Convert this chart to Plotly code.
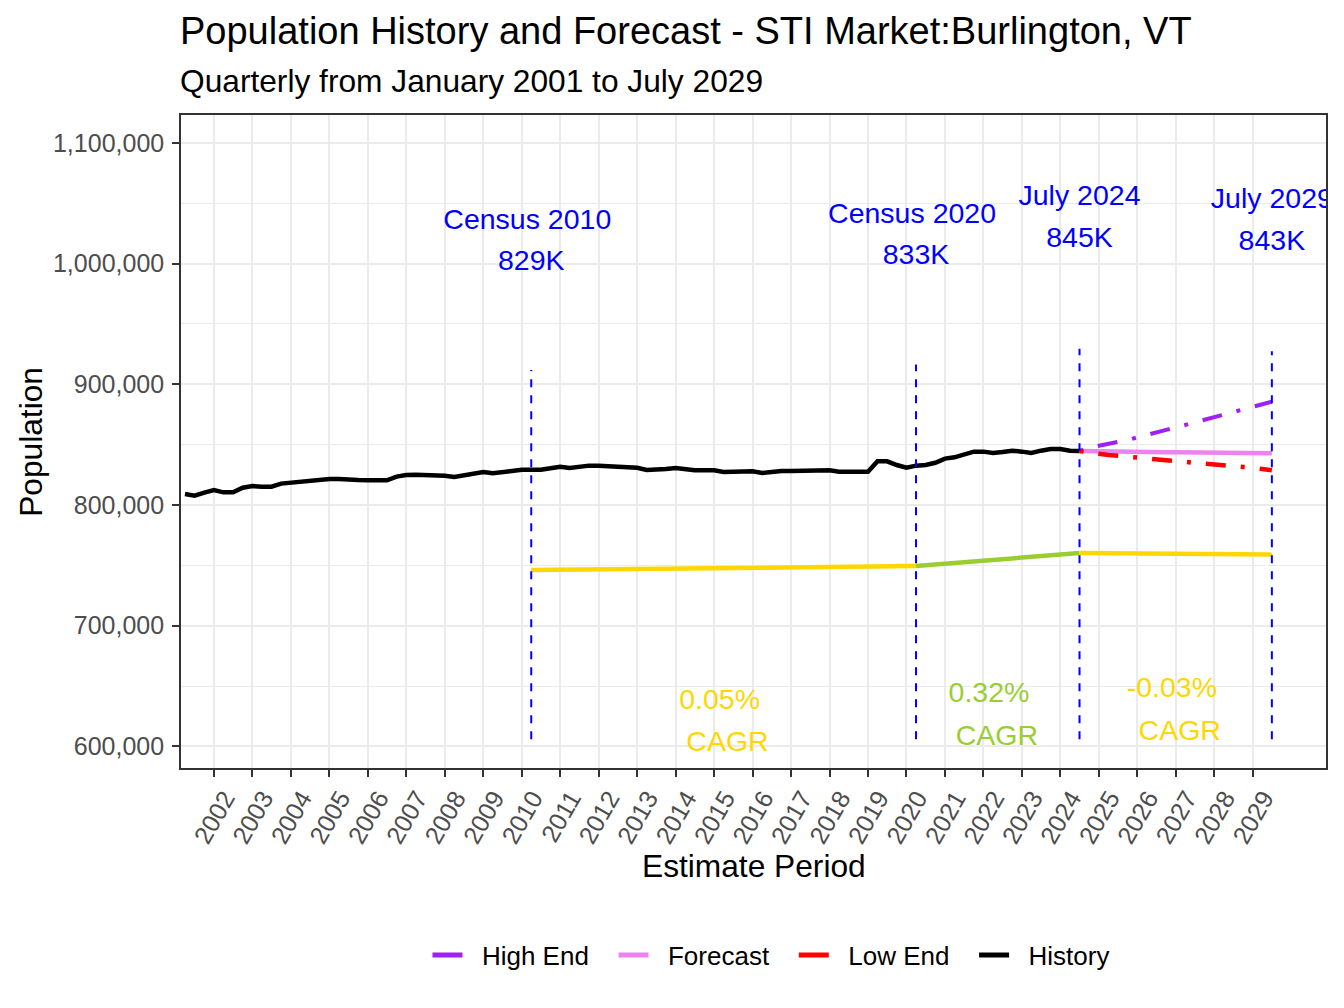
import plotly.graph_objects as go
import pandas as pd

# ---------------- data ----------------
hist_dates = pd.date_range("2001-04-01", "2024-07-01", freq="QS")
hist_values = [
    809100, 807700, 810200,
    812400, 810500, 810500, 814300,
    815700, 815200, 815200, 817700,
    818500, 818500, 819300, 820200,
    821500, 821500, 821500, 820700,
    820500, 820500, 820500, 823500,
    824800, 825100, 825100, 825100,
    824300, 823200, 824600, 826300,
    827300, 826300, 827300, 828700,
    829200, 829200, 829200, 830500,
    831700, 830700, 831700, 832600,
    832600, 832100, 831500, 831200,
    830900, 829000, 829000, 829800,
    830700, 829300, 828700, 828700,
    828700, 827400, 827600, 828200,
    827900, 826500, 827600, 828200,
    828200, 828400, 828400, 828700,
    828700, 827600, 827400, 827400,
    827600, 836200, 836200, 833100,
    830900, 832600, 833100, 835000,
    838400, 839500, 841700, 844200,
    844200, 843100, 843900, 845000,
    844200, 843100, 845000, 846400,
    846400, 845000, 844700,
]

fc_dates = pd.date_range("2024-07-01", "2029-07-01", freq="QS")
forecast_values = [844700, 844500, 844400, 844300, 844000, 843900, 843900, 843800,
                   843800, 843700, 843700, 843600, 843600, 843500, 843500, 843400,
                   843400, 843000, 842900, 842800, 842800]
high_values = [844700, 847500, 849100, 850500, 851900, 853800, 856000, 858300,
               860400, 862200, 864200, 866300, 868500, 870600, 872700, 874600,
               876500, 878400, 880600, 883100, 885600]
low_values = [844700, 843300, 842500, 841500, 840900, 840000, 839400, 838600,
              837800, 837000, 836400, 835700, 835100, 834400, 833900, 833300,
              832700, 831600, 830800, 829800, 828700]

milestone_dates = ["2010-04-01", "2020-04-01", "2024-07-01", "2029-07-01"]
milestone_names = ["Census 2010\u00a0", "Census 2020\u00a0", "July 2024", "July 2029"]
milestone_values = [829000, 833000, 845000, 843000]

cagr_dates = ["2010-04-01", "2020-04-01", "2024-07-01", "2029-07-01"]
cagr_values = [746100, 749400, 760200, 758900]
cagr_labels = ["0.05%", "0.32%", "-0.03%"]
cagr_colors = ["#FFD700", "#9ACD32", "#FFD700"]
cagr_label_dates = ["2015-04-01", "2022-04-01", "2027-01-01"]

year_ticks = list(range(2002, 2030))
y_ticks = [600000, 700000, 800000, 900000, 1000000, 1100000]
y_minor = [650000, 750000, 850000, 950000, 1050000]

legend_items = ["High End", "Forecast", "Low End", "History"]
legend_colors = ["#A020F0", "#EE82EE", "#FF0000", "black"]

# ---------------- style ----------------
FONT = "Liberation Sans, Arial, sans-serif"
BLUE = "#0000FF"
VLINE_BOTTOM = 606000
NB = "\u00a0"

fig = go.Figure()

fig.add_trace(go.Scatter(x=hist_dates, y=hist_values, mode="lines",
                         line=dict(color="black", width=4.5), showlegend=False,
                         hoverinfo="skip"))
fig.add_trace(go.Scatter(x=fc_dates, y=forecast_values, mode="lines",
                         line=dict(color="#EE82EE", width=4.5), showlegend=False,
                         hoverinfo="skip"))
fig.add_trace(go.Scatter(x=fc_dates, y=high_values, mode="lines",
                         line=dict(color="#A020F0", width=4, dash="4px,15px,20px,15px"),
                         showlegend=False, hoverinfo="skip"))
fig.add_trace(go.Scatter(x=fc_dates, y=low_values, mode="lines",
                         line=dict(color="#FF0000", width=4.5, dash="4px,15px,20px,15px"),
                         showlegend=False, hoverinfo="skip"))

# CAGR segments
for i, col in enumerate(cagr_colors):
    fig.add_trace(go.Scatter(x=cagr_dates[i:i + 2], y=cagr_values[i:i + 2], mode="lines",
                             line=dict(color=col, width=4.5), showlegend=False,
                             hoverinfo="skip"))

# milestone dashed verticals
vx, vy = [], []
for d, v in zip(milestone_dates, milestone_values):
    vx += [d, d, None]
    vy += [VLINE_BOTTOM, v * 1.1, None]
fig.add_trace(go.Scatter(x=vx, y=vy, mode="lines",
                         line=dict(color=BLUE, width=2, dash="8px,8px"),
                         showlegend=False, hoverinfo="skip"))

# milestone labels (clipped to plot area like the original)
fig.add_trace(go.Scatter(x=milestone_dates, y=[v * 1.248 for v in milestone_values],
                         mode="text", text=milestone_names, textposition="middle center",
                         textfont=dict(family=FONT, size=28.5, color=BLUE),
                         cliponaxis=True, showlegend=False, hoverinfo="skip"))
fig.add_trace(go.Scatter(x=milestone_dates, y=[v * 1.207 for v in milestone_values],
                         mode="text", text=[f"{round(v / 1000):.0f}K" for v in milestone_values],
                         textposition="middle center",
                         textfont=dict(family=FONT, size=28.5, color=BLUE),
                         cliponaxis=True, showlegend=False, hoverinfo="skip"))

# CAGR labels
seg_means = [(cagr_values[i] + cagr_values[i + 1]) / 2 for i in range(3)]
fig.add_trace(go.Scatter(x=cagr_label_dates, y=[m * 0.8517 for m in seg_means],
                         mode="text", text=[t + NB for t in cagr_labels],
                         textposition="middle center",
                         textfont=dict(family=FONT, size=28.5, color=cagr_colors),
                         cliponaxis=True, showlegend=False, hoverinfo="skip"))
fig.add_trace(go.Scatter(x=cagr_label_dates, y=[m * 0.8047 for m in seg_means],
                         mode="text", text=[NB + "CAGR"] * 3,
                         textposition="middle center",
                         textfont=dict(family=FONT, size=28.5, color=cagr_colors),
                         cliponaxis=True, showlegend=False, hoverinfo="skip"))

# legend entries (solid keys like the original)
for name, col in zip(legend_items, legend_colors):
    fig.add_trace(go.Scatter(x=[None], y=[None], mode="lines",
                             name=NB * 2 + name + NB * 2 + "\u2009",
                             line=dict(color=col, width=5), showlegend=True))

axis_common = dict(
    showgrid=True, gridcolor="#EBEBEB", gridwidth=2.2,
    showline=True, linecolor="#333333", linewidth=1.6, mirror=True,
    ticks="outside", ticklen=7, tickwidth=1.6, tickcolor="#333333",
    tickfont=dict(family=FONT, size=25, color="#4D4D4D"),
    zeroline=False,
)

# page body has an 8px margin: size & margins compensate so the plot sits
# where it does in the original 1344x1008 picture
fig.update_layout(
    width=1328, height=992,
    margin=dict(l=173, r=8, t=107, b=232),
    paper_bgcolor="white", plot_bgcolor="white",
    font=dict(family=FONT, color="black"),
    xaxis=dict(type="date", range=["2001-02-22", "2030-11-27"],
               tickvals=[f"{y}-01-01" for y in year_ticks],
               ticktext=[str(y) for y in year_ticks], tickangle=-60,
               ticklabelshift=11, ticklabelstandoff=-3,
               **axis_common),
    yaxis=dict(range=[582100, 1123100], tickvals=y_ticks,
               ticktext=[f"{v:,}" for v in y_ticks], ticklabelstandoff=3,
               minor=dict(tickvals=y_minor, showgrid=True, gridcolor="#EBEBEB",
                          gridwidth=1.1, ticks=""),
               **axis_common),
    legend=dict(orientation="h", x=0.524, xanchor="center", y=-0.2864, yanchor="middle",
                font=dict(family=FONT, size=26, color="black"),
                bgcolor="rgba(0,0,0,0)"),
    showlegend=True,
    annotations=[
        dict(text="Population History and Forecast - STI Market:Burlington, VT",
             xref="paper", yref="paper", x=0, y=1.128, xanchor="left", yanchor="middle",
             xshift=-3, showarrow=False, font=dict(family=FONT, size=38, color="black")),
        dict(text="Quarterly from January 2001 to July 2029",
             xref="paper", yref="paper", x=0, y=1.0527, xanchor="left", yanchor="middle",
             xshift=-3, showarrow=False, font=dict(family=FONT, size=31.7, color="black")),
        dict(text="Estimate Period", xref="paper", yref="paper", x=0.5, y=-0.150,
             xanchor="center", yanchor="middle", showarrow=False,
             font=dict(family=FONT, size=31.7, color="black")),
        dict(text="Population", xref="paper", yref="paper", x=-0.1316, y=0.5,
             xanchor="center", yanchor="middle", textangle=-90, showarrow=False,
             font=dict(family=FONT, size=31.7, color="black")),
    ],
)

fig.write_html("out.html")
